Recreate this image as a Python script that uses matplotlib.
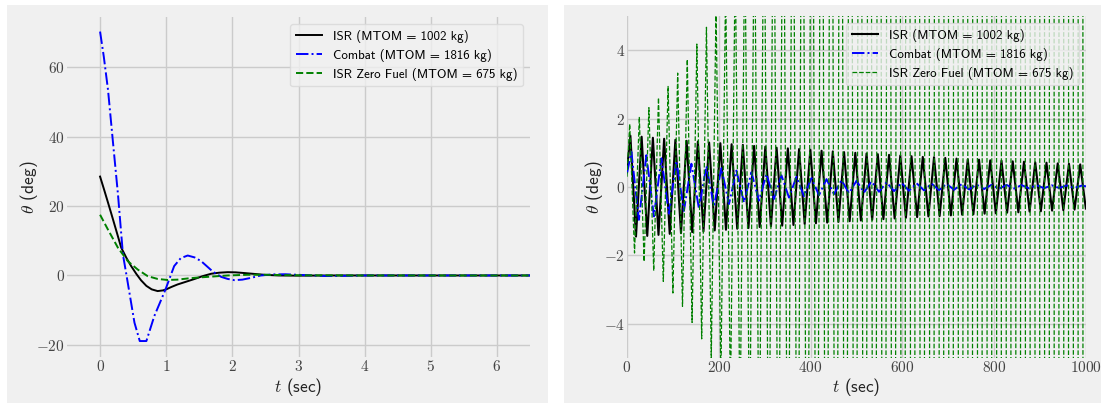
import matplotlib
matplotlib.use("Agg")
import matplotlib.pyplot as plt
from matplotlib.patches import Rectangle
from matplotlib.ticker import FuncFormatter

# ---------------- data: left panel (short time response) ----------------
isr_t = [0, 0.06, 0.12, 0.17, 0.25, 0.32, 0.40, 0.47, 0.55, 0.62, 0.70, 0.78, 0.87,
         0.95, 1.00, 1.08, 1.17, 1.30, 1.43, 1.55, 1.68, 1.80, 1.93, 2.05, 2.18, 2.30,
         2.48, 2.70, 3.0, 3.5, 4.0, 5.0, 6.5]
isr_v = [28.5, 24.8, 21.0, 17.8, 12.6, 8.0, 5.0, 2.7, 0.4, -1.4, -3.0, -4.0, -4.5,
         -4.3, -4.0, -3.3, -2.6, -1.8, -1.0, -0.2, 0.5, 0.8, 0.95, 0.9, 0.7, 0.5,
         0.2, 0.0, -0.05, 0.0, 0.0, 0.0, 0.0]

combat_t = [0, 0.056, 0.12, 0.196, 0.27, 0.346, 0.40, 0.52, 0.60, 0.70, 0.82, 0.99,
            1.12, 1.22, 1.325, 1.43, 1.53, 1.70, 1.83, 1.93, 2.03, 2.15, 2.28, 2.43,
            2.6, 2.8, 3.1, 3.4, 3.7, 4.0, 5.0, 6.5]
combat_v = [70.3, 63.1, 53.5, 38.2, 23.5, 6.0, 0.0, -13.6, -18.9, -18.9, -11.7, -4.0,
            2.7, 5.0, 5.75, 5.2, 4.1, 1.2, -0.4, -1.0, -1.35, -1.2, -0.7, 0.0,
            0.3, 0.35, 0.1, -0.15, -0.1, 0.0, 0.0, 0.0]

zero_t = [0, 0.12, 0.27, 0.42, 0.57, 0.72, 0.87, 1.02, 1.17, 1.33, 1.48, 1.63, 1.93,
          2.23, 2.5, 3.0, 4.0, 6.5]
zero_v = [17.5, 13.2, 8.0, 4.1, 1.7, -0.2, -1.0, -1.3, -1.2, -0.85, -0.6, -0.4, 0.0,
          0.2, 0.2, 0.05, 0.0, 0.0]

# ---------------- data: right panel (long time response, extrema) ----------------
isr_start = (0.0, 0.5)
isr_peak_t = [7.4, 31.9, 56.4, 80.9, 105.4, 129.9, 154.4, 178.9, 203.4, 227.9, 252.4,
              276.9, 301.4, 325.9, 350.4, 374.9, 399.4, 423.9, 448.4, 472.9, 497.4,
              521.9, 546.4, 570.9, 595.4, 619.9, 644.4, 668.9, 693.4, 717.9, 742.4,
              766.9, 791.4, 815.9, 840.4, 864.9, 889.4, 913.9, 938.4, 962.9, 987.4]
isr_peak_v = [1.50, 1.47, 1.44, 1.41, 1.38, 1.35, 1.33, 1.30, 1.28, 1.25, 1.23,
              1.20, 1.18, 1.15, 1.13, 1.11, 1.09, 1.06, 1.04, 1.02, 1.00,
              0.98, 0.96, 0.94, 0.92, 0.90, 0.88, 0.87, 0.85, 0.83, 0.81,
              0.80, 0.78, 0.77, 0.75, 0.74, 0.72, 0.71, 0.69, 0.68, 0.66]
isr_trough_t = [19.6, 44.1, 68.6, 93.1, 117.6, 142.1, 166.6, 191.1, 215.6, 240.1, 264.6,
                289.1, 313.6, 338.1, 362.6, 387.1, 411.6, 436.1, 460.6, 485.1, 509.6,
                534.1, 558.6, 583.1, 607.6, 632.1, 656.6, 681.1, 705.6, 730.1, 754.6,
                779.1, 803.6, 828.1, 852.6, 877.1, 901.6, 926.1, 950.6, 975.1, 999.6]
isr_trough_v = [-1.45, -1.43, -1.40, -1.37, -1.35, -1.32, -1.30, -1.27, -1.25, -1.22, -1.20,
                -1.17, -1.15, -1.13, -1.11, -1.08, -1.06, -1.04, -1.02, -1.00, -0.98,
                -0.96, -0.94, -0.92, -0.90, -0.88, -0.86, -0.85, -0.83, -0.81, -0.80,
                -0.78, -0.77, -0.75, -0.74, -0.72, -0.71, -0.69, -0.68, -0.66, -0.63]

combat_start = (0.0, 0.4)
combat_peak_t = [9.5, 42.2, 74.9, 107.6, 140.3, 173.0, 205.7, 238.4, 271.1, 303.8, 336.5,
                 369.2, 401.9, 434.6, 467.3, 500.0, 532.7, 565.4, 598.1, 630.8, 663.5,
                 696.2, 728.9, 761.6, 794.3, 827.0, 859.7, 892.4, 925.1, 957.8, 990.5]
combat_peak_v = [1.03, 0.93, 0.84, 0.76, 0.68, 0.61, 0.55, 0.48, 0.43, 0.38, 0.34,
                 0.30, 0.26, 0.23, 0.20, 0.18, 0.16, 0.14, 0.12, 0.11, 0.10,
                 0.09, 0.08, 0.07, 0.065, 0.06, 0.055, 0.05, 0.05, 0.045, 0.04]
combat_trough_t = [25.9, 58.6, 91.3, 124.0, 156.7, 189.4, 222.1, 254.8, 287.5, 320.2,
                   352.9, 385.6, 418.3, 451.0, 483.7, 516.4, 549.1, 581.8, 614.5, 647.2,
                   679.9, 712.6, 745.3, 778.0, 810.7, 843.4, 876.1, 908.8, 941.5, 974.2]
combat_trough_v = [-0.96, -0.86, -0.78, -0.70, -0.63, -0.56, -0.50, -0.45, -0.40, -0.35,
                   -0.31, -0.27, -0.24, -0.21, -0.18, -0.16, -0.14, -0.12, -0.11, -0.10,
                   -0.09, -0.08, -0.07, -0.06, -0.05, -0.045, -0.04, -0.035, -0.03, -0.03]
combat_end = (1000.0, 0.02)

zero_start = (0.0, 0.3)
zero_peak_t = [5.9, 26.8, 47.7, 68.6, 89.5, 110.4, 131.3, 152.2, 173.1, 194.0, 214.9, 235.8,
               256.7, 277.6, 298.5, 319.4, 340.3, 361.2, 382.1, 403.0, 423.9, 444.8, 465.7,
               486.6, 507.5, 528.4, 549.3, 570.2, 591.1, 612.0, 632.9, 653.8, 674.7, 695.6,
               716.5, 737.4, 758.3, 779.2, 800.1, 821.0, 841.9, 862.8, 883.7, 904.6, 925.5,
               946.4, 967.3, 988.2]
zero_peak_v = [1.84, 2.05, 2.32, 2.61, 2.94, 3.33, 3.73, 4.18, 4.67, 5.3, 5.9, 6.7,
               7.5, 8.5, 9.6, 10.8, 12.2, 13.7, 15.5, 17.5, 19.7, 22.2, 25.1,
               28.3, 31.9, 36.0, 40.6, 45.8, 51.7, 58.3, 65.8, 74.2, 83.7, 94.4,
               106, 120, 136, 153, 172, 194, 219, 247, 279, 315, 355,
               400, 452, 510]
zero_trough_t = [16.4, 37.3, 58.2, 79.1, 100.0, 120.9, 141.8, 162.7, 183.6, 204.5, 225.4,
                 246.3, 267.2, 288.1, 309.0, 329.9, 350.8, 371.7, 392.6, 413.5, 434.4,
                 455.3, 476.2, 497.1, 518.0, 538.9, 559.8, 580.7, 601.6, 622.5, 643.4,
                 664.3, 685.2, 706.1, 727.0, 747.9, 768.8, 789.7, 810.6, 831.5, 852.4,
                 873.3, 894.2, 915.1, 936.0, 956.9, 977.8, 998.7]
zero_trough_v = [-1.93, -2.18, -2.45, -2.76, -3.10, -3.49, -3.96, -4.44, -5.0, -5.6, -6.3,
                 -7.1, -8.0, -9.0, -10.2, -11.5, -12.9, -14.6, -16.4, -18.5, -20.9,
                 -23.6, -26.6, -30.0, -33.9, -38.2, -43.1, -48.6, -54.9, -61.9, -69.8,
                 -78.8, -88.9, -100, -113, -127, -144, -162, -183, -206, -233,
                 -263, -296, -334, -377, -426, -480, -540]

labels = ['ISR (MTOM = 1002 kg)',
          'Combat (MTOM = 1816 kg)',
          'ISR Zero Fuel (MTOM = 675 kg)']


def merge(start, pt, pv, tt, tv, end=None):
    pts = [start] + list(zip(pt, pv)) + list(zip(tt, tv))
    if end is not None:
        pts.append(end)
    pts.sort(key=lambda p: p[0])
    return [p[0] for p in pts], [p[1] for p in pts]


plt.rcParams['mathtext.fontset'] = 'cm'
plt.rcParams['axes.unicode_minus'] = True

SANS = ['cmss10', 'DejaVu Sans']

W, H = 1108, 407
fig = plt.figure(figsize=(W / 100, H / 100), dpi=100, facecolor='white')

BG = '#f0f0f0'
for (x0, y0, x1, y1) in [(7, 5, 548, 403), (564, 5, 1101, 403)]:
    fig.patches.append(Rectangle((x0 / W, 1 - y1 / H), (x1 - x0) / W, (y1 - y0) / H,
                                 transform=fig.transFigure, facecolor=BG,
                                 edgecolor='none', zorder=-10))


def make_axes(x0, y0, x1, y1, ylab_x):
    ax = fig.add_axes([x0 / W, 1 - y1 / H, (x1 - x0) / W, (y1 - y0) / H])
    ax.set_facecolor(BG)
    for s in ax.spines.values():
        s.set_visible(False)
    ax.grid(True, color='#cbcbcb', linewidth=1.0)
    ax.set_axisbelow(True)
    ax.tick_params(length=0, labelsize=11, colors='#444444', pad=1.5)
    ax.xaxis.set_major_formatter(FuncFormatter(lambda v, p: r'$%g$' % v))
    ax.yaxis.set_major_formatter(FuncFormatter(lambda v, p: r'$%g$' % v))
    ax.set_xlabel(r'$t$ (sec)', fontsize=12.5, color='#222222', family=SANS)
    ax.set_ylabel(r'$\theta$ (deg)', fontsize=12.5, color='#222222', family=SANS)
    ax.xaxis.set_label_coords(0.5, -(376 - y1) / (y1 - y0))
    ax.yaxis.set_label_coords(-(x0 - ylab_x) / (x1 - x0), 0.5)
    return ax


def add_legend(ax):
    ax.legend(loc='upper right', prop={'family': SANS, 'size': 9.3}, facecolor=BG,
              edgecolor='#d8d8d8', framealpha=0.8, borderpad=0.45, handlelength=2.0,
              handletextpad=0.85, labelspacing=0.45, borderaxespad=0.55)


# ---------------- left panel ----------------
ax1 = make_axes(67, 17, 530, 357, 40)
ax1.plot(isr_t, isr_v, color='black', lw=1.4, ls='-', label=labels[0])
ax1.plot(combat_t, combat_v, color='blue', lw=1.4, ls='-.', label=labels[1])
ax1.plot(zero_t, zero_v, color='green', lw=1.4, ls='--', label=labels[2])
ax1.set_xlim(-0.5, 6.5)
ax1.set_ylim(-23.5, 74.5)
ax1.set_xticks([0, 1, 2, 3, 4, 5, 6])
ax1.set_yticks([-20, 0, 20, 40, 60])
add_legend(ax1)

# ---------------- right panel ----------------
ax2 = make_axes(627, 16, 1086, 358, 605)
bt, bv = merge(isr_start, isr_peak_t, isr_peak_v, isr_trough_t, isr_trough_v)
ct, cv = merge(combat_start, combat_peak_t, combat_peak_v, combat_trough_t, combat_trough_v,
               combat_end)
gt, gv = merge(zero_start, zero_peak_t, zero_peak_v, zero_trough_t, zero_trough_v)
ax2.plot(bt, bv, color='black', lw=1.5, ls='-', label=labels[0])
ax2.plot(ct, cv, color='blue', lw=1.4, ls='-.', label=labels[1])
ax2.plot(gt, gv, color='green', lw=0.9, ls='--', label=labels[2])
ax2.set_xlim(0, 1000)
ax2.set_ylim(-5, 5)
ax2.set_xticks([0, 200, 400, 600, 800, 1000])
ax2.set_yticks([-4, -2, 0, 2, 4])
add_legend(ax2)

fig.savefig('out.png', dpi=100, facecolor='white')
